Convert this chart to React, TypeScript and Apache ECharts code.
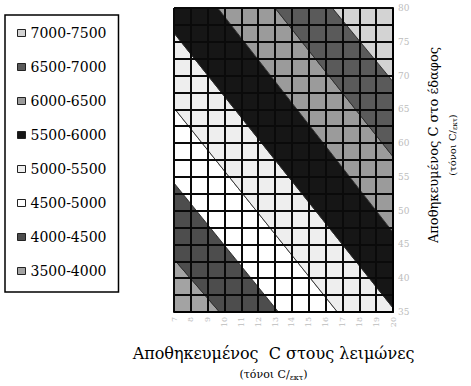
import React, { useEffect, useRef } from 'react';
import * as echarts from 'echarts';

// Legend / band classes (low to high)
const bandLabels = ['3500-4000', '4000-4500', '4500-5000', '5000-5500', '5500-6000', '6000-6500', '6500-7000', '7000-7500'];
const bandColors = ['#a3a3a3', '#4d4d4d', '#ffffff', '#eeeeee', '#161616', '#9b9b9b', '#5a5a5a', '#d3d3d3'];

// Contour lines between the bands (4000 ... 7000):
// where each line enters the frame (left/top edge) and leaves it (bottom/right edge)
const contourLevels = [4000, 4500, 5000, 5500, 6000, 6500, 7000];
const contourStart = [[7, 42.8], [7, 54.1], [7, 65.2], [7, 76.3], [9.6, 80], [13.0, 80], [16.4, 80]];
const contourEnd = [[9.7, 35], [13.2, 35], [16.7, 35], [20, 35.6], [20, 46.8], [20, 58.0], [20, 69.1]];

// Axes
const xMin = 7, xMax = 20, xStep = 1;
const yMin = 35, yMax = 80, yStep = 2.5, yLabelStep = 5;

const xTitle = 'Αποθηκευμένος  C στους λειμώνες';
const yTitle = 'Αποθηκευμένος C στο έδαφος';

type Pt = number[];

function clipHalf(poly: Pt[], P: Pt, Q: Pt, keepHigh: boolean): Pt[] {
  const side = (p: Pt) => (Q[0] - P[0]) * (p[1] - P[1]) - (Q[1] - P[1]) * (p[0] - P[0]);
  const hs = Math.sign(side([xMax, yMax])) || 1;
  const inside = (p: Pt) => (keepHigh ? side(p) * hs >= 0 : side(p) * hs <= 0);
  const out: Pt[] = [];
  for (let i = 0; i < poly.length; i++) {
    const a = poly[i];
    const b = poly[(i + 1) % poly.length];
    const ia = inside(a), ib = inside(b);
    if (ia) out.push(a);
    if (ia !== ib) {
      const sa = side(a), sb = side(b);
      const t = sa / (sa - sb);
      out.push([a[0] + t * (b[0] - a[0]), a[1] + t * (b[1] - a[1])]);
    }
  }
  return out;
}

function bandPolygon(k: number): Pt[] {
  let poly: Pt[] = [[xMin, yMin], [xMax, yMin], [xMax, yMax], [xMin, yMax]];
  if (k > 0) poly = clipHalf(poly, contourStart[k - 1], contourEnd[k - 1], true);
  if (k < contourLevels.length) poly = clipHalf(poly, contourStart[k], contourEnd[k], false);
  return poly;
}

export default function App() {
  const ref = useRef<HTMLDivElement>(null);
  useEffect(() => {
    if (!ref.current) return;
    const chart = echarts.init(ref.current, null, { renderer: 'svg' });
    const serif = 'DejaVu Serif';
    const series = bandLabels.map((name, k) => {
      const poly = bandPolygon(k);
      return {
        type: 'custom',
        name,
        coordinateSystem: 'cartesian2d',
        itemStyle: { color: bandColors[k] },
        data: [[xMin, yMin]],
        clip: true,
        renderItem: (_params: any, api: any) => ({
          type: 'polygon',
          shape: { points: poly.map((p) => api.coord(p)) },
          style: { fill: bandColors[k], stroke: '#2a2a2a', lineWidth: 0.9 },
        }),
      };
    });
    chart.setOption({
      animation: false,
      backgroundColor: '#ffffff',
      grid: { left: 174, right: 78, top: 8, bottom: 74 },
      legend: {
        orient: 'vertical',
        left: 5,
        top: 15,
        data: [...bandLabels].reverse(),
        icon: 'rect',
        itemWidth: 8,
        itemHeight: 7,
        itemGap: 20,
        padding: [11, 12, 14, 12],
        borderColor: '#000',
        borderWidth: 1.5,
        itemStyle: { borderColor: '#222', borderWidth: 1 },
        textStyle: { fontFamily: serif, fontSize: 14, color: '#000', lineHeight: 14 },
        selectedMode: false,
      },
      xAxis: {
        type: 'value',
        min: xMin,
        max: xMax,
        interval: xStep,
        z: 10,
        axisLine: { show: true, lineStyle: { color: '#000', width: 2 } },
        axisTick: { show: false },
        splitLine: { show: true, lineStyle: { color: '#0a0a0a', width: 2 } },
        axisLabel: { rotate: 90, color: '#bdbdbd', fontSize: 8, fontFamily: serif, margin: 5 },
        name: `{t|${xTitle}}\n{u|(τόνοι C/}{s|εκτ}{u|)}`,
        nameLocation: 'middle',
        nameGap: 30,
        nameTextStyle: {
          padding: [0, 20, 0, 0],
          rich: {
            t: { fontFamily: serif, fontSize: 16, color: '#000', lineHeight: 22 },
            u: { fontFamily: serif, fontSize: 11, color: '#000', lineHeight: 20 },
            s: { fontFamily: serif, fontSize: 8, color: '#000', lineHeight: 20, padding: [6, 0, 0, 0] },
          },
        },
      },
      yAxis: {
        type: 'value',
        position: 'right',
        min: yMin,
        max: yMax,
        interval: yStep,
        z: 10,
        axisLine: { show: true, lineStyle: { color: '#000', width: 2 } },
        axisTick: { show: false },
        splitLine: { show: true, lineStyle: { color: '#0a0a0a', width: 2 } },
        axisLabel: {
          color: '#bdbdbd',
          fontSize: 9,
          fontFamily: serif,
          margin: 5,
          formatter: (v: number) => (v % yLabelStep === 0 ? String(v) : ''),
        },
        name: `{t|${yTitle}}\n{u|(τόνοι C/}{s|εκτ}{u|)}`,
        nameLocation: 'middle',
        nameRotate: 90,
        nameGap: 30,
        nameTextStyle: {
          padding: [0, 0, 0, 30],
          rich: {
            t: { fontFamily: serif, fontSize: 13, color: '#000', lineHeight: 20 },
            u: { fontFamily: serif, fontSize: 10, color: '#000', lineHeight: 18 },
            s: { fontFamily: serif, fontSize: 7, color: '#000', lineHeight: 18, padding: [5, 0, 0, 0] },
          },
        },
      },
      series,
    });
    return () => chart.dispose();
  }, []);
  return <div ref={ref} style={{ position: 'fixed', left: 0, top: 0, width: 471, height: 386 }} />;
}
